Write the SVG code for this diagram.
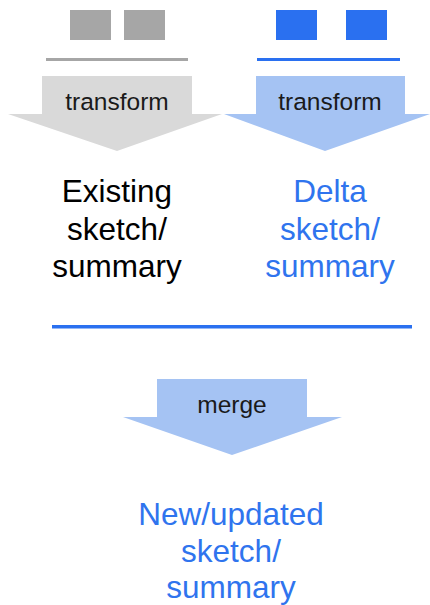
<svg xmlns="http://www.w3.org/2000/svg" width="430" height="605" viewBox="0 0 430 605">
  <style>
    .lbl { font-family: "Liberation Sans", Arial, sans-serif; text-anchor: middle; }
    .small { font-size: 24.5px; fill: #1a1a1a; }
    .big { font-size: 31.5px; }
    .black { fill: #000000; }
    .blue { fill: #2F74EE; }
    .grey-block { fill: #A6A6A6; }
    .blue-block { fill: #2A70F0; }
    .grey-arrow { fill: #D9D9D9; }
    .blue-arrow { fill: #A5C3F3; }
  </style>

  <!-- existing data blocks -->
  <g id="existing-data">
    <rect class="grey-block" x="70" y="10" width="41" height="30"/>
    <rect class="grey-block" x="124" y="10" width="41" height="30"/>
    <rect class="grey-block" x="46" y="58" width="142" height="3"/>
  </g>

  <!-- new data blocks -->
  <g id="delta-data">
    <rect class="blue-block" x="276" y="10" width="41" height="30"/>
    <rect class="blue-block" x="346" y="10" width="41" height="30"/>
    <rect class="blue-block" x="257" y="58" width="143" height="3"/>
  </g>

  <!-- transform arrows -->
  <g id="transform-existing">
    <polygon class="grey-arrow" points="42,76 192,76 192,114 222,114 117,151 8,114 42,114"/>
    <text class="lbl small" x="117" y="110">transform</text>
  </g>
  <g id="transform-delta">
    <polygon class="blue-arrow" points="256,76 405,76 405,114 430,114 325,151 224,114 256,114"/>
    <text class="lbl small" x="330" y="110">transform</text>
  </g>

  <!-- sketches -->
  <g id="existing-sketch">
    <text class="lbl big black" x="117" y="202">Existing</text>
    <text class="lbl big black" x="117" y="240">sketch/</text>
    <text class="lbl big black" x="117" y="277">summary</text>
  </g>
  <g id="delta-sketch">
    <text class="lbl big blue" x="330" y="202">Delta</text>
    <text class="lbl big blue" x="330" y="240">sketch/</text>
    <text class="lbl big blue" x="330" y="277">summary</text>
  </g>

  <!-- separator and merge -->
  <g id="connectors">
    <rect class="blue-block" x="52" y="325" width="360" height="3.5"/>
  </g>
  <g id="merge">
    <polygon class="blue-arrow" points="157,379 307,379 307,417 342,417 232,455 123,417 157,417"/>
    <text class="lbl small" x="232" y="413">merge</text>
  </g>

  <!-- result -->
  <g id="new-sketch">
    <text class="lbl big blue" x="231" y="525">New/updated</text>
    <text class="lbl big blue" x="231" y="562">sketch/</text>
    <text class="lbl big blue" x="231" y="598">summary</text>
  </g>
</svg>
